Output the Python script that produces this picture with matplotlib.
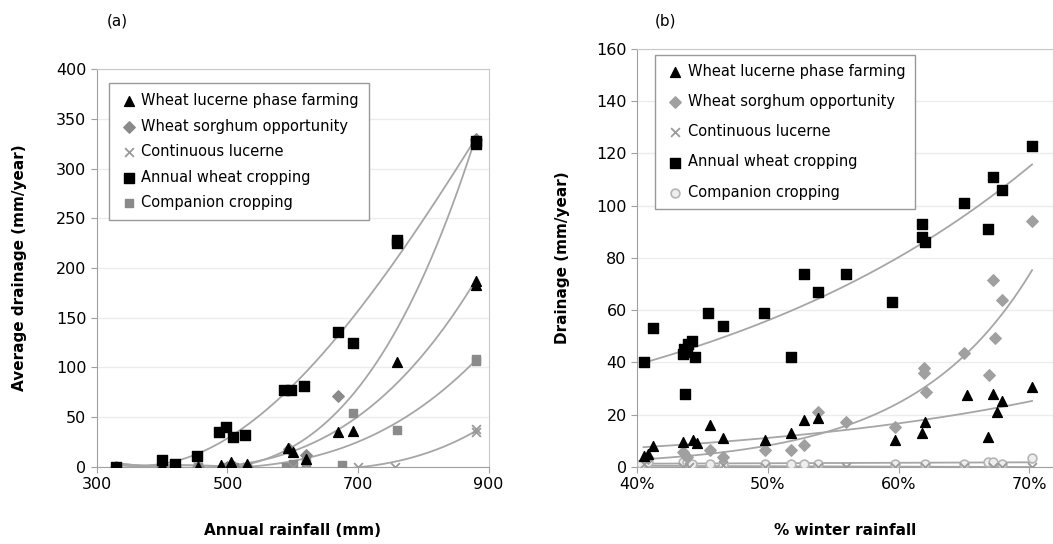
import matplotlib
matplotlib.use('Agg')
import matplotlib.pyplot as plt
import numpy as np

plt.rcParams['font.family'] = ['DejaVu Sans']

# ---- panel (a): annual rainfall (mm) vs average drainage (mm/year)
wlp_a_x = [330, 400, 420, 455, 490, 505, 530, 592, 600, 620, 670, 693, 760, 880, 880]
wlp_a_y = [0, 2, 1, 0, 2, 5, 3, 19, 15, 8, 35, 36, 105, 187, 183]

wso_a_x = [330, 400, 420, 455, 500, 510, 530, 595, 620, 670, 880]
wso_a_y = [0, 0, 0, 0, 0, 0, 0, 18, 12, 71, 330]

cl_a_x = [330, 400, 420, 455, 500, 530, 600, 620, 700, 756, 880, 880]
cl_a_y = [0, 0, 0, 0, 0, 0, 0, 0, 0, 0, 35, 38]

awc_a_x = [330, 400, 420, 454, 487, 498, 508, 527, 586, 597, 618, 670, 693, 760, 760, 880, 880]
awc_a_y = [0, 7, 3, 11, 35, 40, 30, 32, 77, 77, 81, 136, 124, 228, 225, 328, 325]

cc_a_x = [330, 400, 420, 455, 500, 510, 530, 590, 600, 620, 675, 693, 760, 880, 880]
cc_a_y = [0, 0, 0, 0, 0, 0, 0, 0, 3, 5, 2, 54, 37, 106, 108]

# ---- panel (b): % winter rainfall vs drainage (mm/year)
wlp_b_x = [40.5, 40.8, 41.2, 43.5, 44.3, 44.6, 45.6, 46.6, 49.8, 51.8, 52.8, 53.8,
           59.7, 61.8, 62.0, 65.2, 66.8, 67.2, 67.5, 67.9, 70.2]
wlp_b_y = [4, 5, 8, 9.5, 10.3, 9.2, 16, 11, 10.3, 13, 18, 18.7,
           10.3, 13, 17, 27.5, 11.5, 28, 21, 25, 30.5]

wso_b_x = [40.8, 43.5, 43.8, 45.6, 46.6, 49.8, 51.8, 52.8, 53.8, 56.0,
           59.7, 61.9, 61.9, 62.1, 65.0, 66.9, 67.2, 67.4, 67.9, 70.2]
wso_b_y = [3.4, 5.7, 3.8, 6.5, 3.8, 6.5, 6.5, 8.4, 21, 17,
           15.3, 37.8, 36, 28.6, 43.5, 35.1, 71.4, 49.2, 63.7, 94]

cl_b_x = [40.5, 43.5, 44.0, 46.6, 49.8, 53.8, 56.0, 59.7, 62.0, 65.0, 67.2, 67.9, 70.2]
cl_b_y = [1, 0, 0, 0.5, 0, 0, 0, 0, 0, 0, 0, 0, 0]

awc_b_x = [40.5, 41.2, 43.7, 43.5, 43.6, 43.9, 44.2, 44.4, 43.8, 45.4, 46.6, 49.7,
           51.8, 52.8, 53.8, 56.0, 59.5, 61.8, 61.8, 62.0, 65.0, 66.8, 67.2, 67.9, 70.2]
awc_b_y = [40, 53, 28, 43, 45, 47, 48, 42, 44, 59, 54, 59,
           42, 74, 67, 74, 63, 93, 88, 86, 101, 91, 111, 106, 123]

cc_b_x = [40.3, 40.8, 43.5, 43.8, 44.2, 45.6, 46.6, 49.8, 51.8, 52.8, 53.8,
          59.7, 62.0, 65.0, 66.8, 67.2, 67.9, 70.2]
cc_b_y = [1, 2, 2, 2, 1, 1, 1, 1, 1, 1, 1, 1, 1, 1, 2, 2, 1, 3.5]

names = ['Wheat lucerne phase farming', 'Wheat sorghum opportunity',
         'Continuous lucerne', 'Annual wheat cropping', 'Companion cropping']

TREND = '#a6a6a6'
GRID = '#ececec'
FRAME = '#c8c8c8'


def poly_trend(ax, x, y, deg=3):
    c = np.polyfit(x, y, deg)
    xs = np.linspace(min(x), max(x), 200)
    ax.plot(xs, np.polyval(c, xs), color=TREND, lw=1.3, zorder=1)


def exp_trend(ax, x, y):
    c = np.polyfit(x, np.log(y), 1)
    xs = np.linspace(min(x), max(x), 200)
    ax.plot(xs, np.exp(np.polyval(c, xs)), color=TREND, lw=1.3, zorder=1)


def lin_trend(ax, x, y):
    c = np.polyfit(x, y, 1)
    xs = np.linspace(min(x), max(x), 50)
    ax.plot(xs, np.polyval(c, xs), color=TREND, lw=1.3, zorder=1)


def style_axes(ax):
    ax.grid(axis='y', color=GRID, lw=1)
    ax.set_axisbelow(True)
    for s in ['top', 'right']:
        ax.spines[s].set_color(FRAME)
    ax.spines['left'].set_color('#a0a0a0')
    ax.spines['bottom'].set_color('#a0a0a0')
    ax.tick_params(direction='out', length=4, color='#a0a0a0', labelsize=11.5)


fig = plt.figure(figsize=(10.53, 5.44), dpi=100)

# panel (a)
ax1 = fig.add_axes([0.092, 0.142, 0.372, 0.731])
poly_trend(ax1, awc_a_x, awc_a_y)
poly_trend(ax1, wso_a_x, wso_a_y)
poly_trend(ax1, wlp_a_x, wlp_a_y)
poly_trend(ax1, cc_a_x, cc_a_y)
poly_trend(ax1, cl_a_x, cl_a_y)
ax1.scatter(cc_a_x, cc_a_y, marker='s', s=40, color='#8a8a8a', zorder=3, label=names[4])
ax1.scatter(cl_a_x, cl_a_y, marker='x', s=40, color='#9a9a9a', lw=1.3, zorder=3, label=names[2])
ax1.scatter(wso_a_x, wso_a_y, marker='D', s=34, color='#8a8a8a', zorder=3, label=names[1])
ax1.scatter(wlp_a_x, wlp_a_y, marker='^', s=50, color='black', zorder=4, label=names[0])
ax1.scatter(awc_a_x, awc_a_y, marker='s', s=45, color='black', zorder=4, label=names[3])
ax1.set_xlim(300, 900)
ax1.set_ylim(0, 400)
ax1.set_xticks([300, 500, 700, 900])
ax1.set_yticks(np.arange(0, 401, 50))
style_axes(ax1)
h, l = ax1.get_legend_handles_labels()
order = [l.index(n) for n in names]
ax1.legend([h[i] for i in order], [l[i] for i in order], loc='upper left',
           bbox_to_anchor=(0.03, 0.965), borderaxespad=0, fontsize=10.5, fancybox=False,
           edgecolor='#999999', framealpha=1, handletextpad=0.1,
           labelspacing=0.72, borderpad=0.7, handlelength=1.4)
ax1.set_xlabel('Annual rainfall (mm)', fontsize=11, fontweight='bold', labelpad=22)
ax1.set_ylabel('Average drainage (mm/year)', fontsize=11, fontweight='bold', labelpad=21)
fig.text(0.111, 0.962, '(a)', fontsize=11, ha='center', va='center')

# panel (b)
ax2 = fig.add_axes([0.605, 0.142, 0.395, 0.768])
exp_trend(ax2, awc_b_x, awc_b_y)
exp_trend(ax2, wso_b_x, wso_b_y)
exp_trend(ax2, wlp_b_x, wlp_b_y)
lin_trend(ax2, cc_b_x, cc_b_y)
lin_trend(ax2, cl_b_x, cl_b_y)
ax2.scatter(cc_b_x, cc_b_y, marker='o', s=40, facecolor='#eeeeee', edgecolor='#b5b5b5',
            lw=1.2, zorder=3, label=names[4])
ax2.scatter(cl_b_x, cl_b_y, marker='x', s=40, color='#9a9a9a', lw=1.3, zorder=3, label=names[2])
ax2.scatter(wso_b_x, wso_b_y, marker='D', s=34, color='#a0a0a0', zorder=3, label=names[1])
ax2.scatter(wlp_b_x, wlp_b_y, marker='^', s=50, color='black', zorder=4, label=names[0])
ax2.scatter(awc_b_x, awc_b_y, marker='s', s=45, color='black', zorder=4, label=names[3])
ax2.set_xlim(40, 71.8)
ax2.set_ylim(0, 160)
ax2.set_xticks([40, 50, 60, 70])
ax2.set_xticklabels(['40%', '50%', '60%', '70%'])
ax2.set_yticks(np.arange(0, 161, 20))
style_axes(ax2)
h, l = ax2.get_legend_handles_labels()
order = [l.index(n) for n in names]
ax2.legend([h[i] for i in order], [l[i] for i in order], loc='upper left',
           bbox_to_anchor=(0.043, 0.986), borderaxespad=0, fontsize=10.5, fancybox=False,
           edgecolor='#999999', framealpha=1, handletextpad=0.1,
           labelspacing=1.05, borderpad=0.6, handlelength=1.6)
ax2.set_xlabel('% winter rainfall', fontsize=11, fontweight='bold', labelpad=22)
ax2.set_ylabel('Drainage (mm/year)', fontsize=11, fontweight='bold', labelpad=19)
fig.text(0.632, 0.962, '(b)', fontsize=11, ha='center', va='center')

fig.savefig('out.png', dpi=100)
